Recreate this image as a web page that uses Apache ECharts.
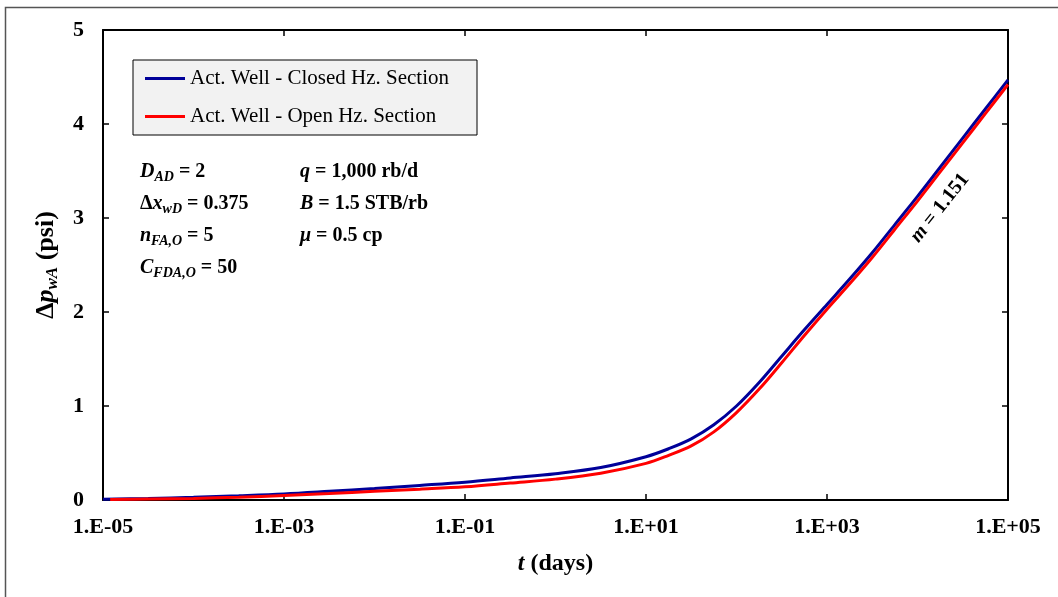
<!DOCTYPE html>
<html>
<head>
<meta charset="utf-8">
<script src="https://cdn.jsdelivr.net/npm/echarts@6/dist/echarts.min.js"></script>
<style>
  html, body { margin: 0; padding: 0; background: #ffffff; }
  #chart { width: 1058px; height: 597px; }
</style>
</head>
<body>
<div id="chart"></div>
<script>
// Elapsed time (days) for each curve sample
const tClosed = [1e-5, 3.16e-5, 1e-4, 3.16e-4, 1e-3, 3.16e-3, 1e-2, 3.16e-2, 0.1, 0.316, 1, 3.16,
  10, 17.8, 31.6, 56.2, 100, 178, 316, 562, 1000, 1780, 3160, 5620, 1e4, 1.78e4, 3.16e4, 5.62e4, 1e5];
const tOpen = [1.2e-5, 3.16e-5, 1e-4, 3.16e-4, 1e-3, 3.16e-3, 1e-2, 3.16e-2, 0.1, 0.316, 1, 3.16,
  10, 17.8, 31.6, 56.2, 100, 178, 316, 562, 1000, 1780, 3160, 5620, 1e4, 1.78e4, 3.16e4, 5.62e4, 1e5];

// Pressure drop at the active well (psi)
const dpClosed = [0.007, 0.017, 0.029, 0.045, 0.064, 0.092, 0.122, 0.155, 0.19, 0.235, 0.28, 0.345,
  0.46, 0.545, 0.65, 0.80, 1.0, 1.25, 1.53, 1.81, 2.08, 2.35, 2.63, 2.93, 3.23, 3.54, 3.85, 4.16, 4.47];
const dpOpen = [0.005, 0.010, 0.017, 0.030, 0.048, 0.068, 0.093, 0.115, 0.14, 0.18, 0.222, 0.285,
  0.39, 0.475, 0.575, 0.725, 0.93, 1.18, 1.46, 1.75, 2.03, 2.30, 2.58, 2.88, 3.18, 3.49, 3.80, 4.11, 4.42];

const seriesNames = ['Act. Well - Closed Hz. Section', 'Act. Well - Open Hz. Section'];

// Parameter annotations (rich-text markup)
const paramsLeft = [
  '{i|D}{s|AD}{b| = 2}',
  '{b|Δ}{i|x}{s|wD}{b| = 0.375}',
  '{i|n}{s|FA,O}{b| = 5}',
  '{i|C}{s|FDA,O}{b| = 50}'
];
const paramsRight = [
  '{i|q}{b| = 1,000 rb/d}',
  '{i|B}{b| = 1.5 STB/rb}',
  '{i|μ}{b| = 0.5 cp}'
];
const slopeLabel = '{i|m}{b| = 1.151}';

const FONT = 'Liberation Serif';

function expLabel(v) {
  const e = Math.round(Math.log10(v));
  return '1.E' + (e < 0 ? '-' : '+') + String(Math.abs(e)).padStart(2, '0');
}

function pairs(xs, ys) { return xs.map((x, i) => [x, ys[i]]); }

const richParam = {
  b: { fontFamily: FONT, fontWeight: 'bold', fontSize: 20, color: '#000' },
  i: { fontFamily: FONT, fontWeight: 'bold', fontStyle: 'italic', fontSize: 20, color: '#000' },
  s: { fontFamily: FONT, fontWeight: 'bold', fontStyle: 'italic', fontSize: 14, color: '#000', padding: [10, 0, 0, 0] }
};

const graphics = [
  { type: 'rect', silent: true, z: 0,
    shape: { x: 5.5, y: 7.5, width: 1200, height: 800 },
    style: { fill: 'none', stroke: '#555', lineWidth: 1.5 } }
];
paramsLeft.forEach((txt, k) => graphics.push({
  type: 'text', left: 140, top: 162 + k * 32, z: 10,
  style: { text: txt, rich: richParam }
}));
paramsRight.forEach((txt, k) => graphics.push({
  type: 'text', left: 300, top: 162 + k * 32, z: 10,
  style: { text: txt, rich: richParam }
}));
graphics.push({
  type: 'text', x: 940, y: 208, rotation: 0.90, z: 10,
  style: {
    text: slopeLabel, rich: {
      b: { fontFamily: FONT, fontWeight: 'bold', fontSize: 20, color: '#000' },
      i: { fontFamily: FONT, fontWeight: 'bold', fontStyle: 'italic', fontSize: 20, color: '#000' }
    },
    align: 'center', verticalAlign: 'middle'
  }
});

const chart = echarts.init(document.getElementById('chart'), null, { renderer: 'canvas' });

const tickStyle = { show: true, inside: true, length: 6, interval: 0, lineStyle: { color: '#000', width: 1.5 } };
const axisLineStyle = { show: true, onZero: false, lineStyle: { color: '#000', width: 2 } };

chart.setOption({
  animation: false,
  backgroundColor: '#fff',
  grid: { left: 103, right: 50, top: 30, bottom: 97, containLabel: false },
  legend: {
    orient: 'vertical', left: 133, top: 60,
    backgroundColor: '#f2f2f2', borderColor: '#000', borderWidth: 1,
    padding: [8, 28, 8, 12], itemGap: 17, itemWidth: 40, itemHeight: 3,
    icon: 'rect',
    textStyle: { fontFamily: FONT, fontSize: 21, color: '#000' },
    data: seriesNames
  },
  xAxis: [
    {
      type: 'log', logBase: 10, min: 1e-5, max: 1e5, interval: 2,
      name: '{i|t}{b| (days)}', nameLocation: 'middle', nameGap: 52,
      nameTextStyle: { rich: {
        i: { fontFamily: FONT, fontWeight: 'bold', fontStyle: 'italic', fontSize: 24, color: '#000' },
        b: { fontFamily: FONT, fontWeight: 'bold', fontSize: 24, color: '#000' }
      } },
      axisLine: axisLineStyle, axisTick: tickStyle, splitLine: { show: false }, minorTick: { show: false },
      axisLabel: { interval: 0, formatter: expLabel, fontFamily: FONT, fontWeight: 'bold', fontSize: 22, color: '#000', margin: 16 }
    },
    {
      type: 'log', logBase: 10, min: 1e-5, max: 1e5, interval: 2, position: 'top',
      axisLine: axisLineStyle, axisTick: tickStyle, splitLine: { show: false },
      axisLabel: { show: false, interval: 0 }
    }
  ],
  yAxis: [
    {
      type: 'value', min: 0, max: 5, interval: 1,
      name: '{d|Δ}{p|p}{s|wA}{n| (psi)}', nameLocation: 'middle', nameGap: 42, nameRotate: 90,
      nameTextStyle: { rich: {
        d: { fontFamily: FONT, fontWeight: 'bold', fontSize: 26, color: '#000' },
        p: { fontFamily: FONT, fontWeight: 'bold', fontStyle: 'italic', fontSize: 26, color: '#000' },
        s: { fontFamily: FONT, fontWeight: 'bold', fontStyle: 'italic', fontSize: 17, color: '#000', padding: [12, 0, 0, 0] },
        n: { fontFamily: FONT, fontWeight: 'bold', fontSize: 26, color: '#000' }
      } },
      axisLine: axisLineStyle, axisTick: tickStyle, splitLine: { show: false },
      axisLabel: { fontFamily: FONT, fontWeight: 'bold', fontSize: 22, color: '#000', margin: 19 }
    },
    {
      type: 'value', min: 0, max: 5, interval: 1, position: 'right',
      axisLine: axisLineStyle, axisTick: tickStyle, splitLine: { show: false },
      axisLabel: { show: false }
    }
  ],
  series: [
    {
      name: seriesNames[0], type: 'line', data: pairs(tClosed, dpClosed),
      symbol: 'none', smooth: 0.35, z: 3,
      lineStyle: { color: '#000099', width: 3 }, itemStyle: { color: '#000099' }
    },
    {
      name: seriesNames[1], type: 'line', data: pairs(tOpen, dpOpen),
      symbol: 'none', smooth: 0.35, z: 4,
      lineStyle: { color: '#ff0000', width: 3 }, itemStyle: { color: '#ff0000' }
    }
  ],
  graphic: graphics
});
</script>
</body>
</html>
